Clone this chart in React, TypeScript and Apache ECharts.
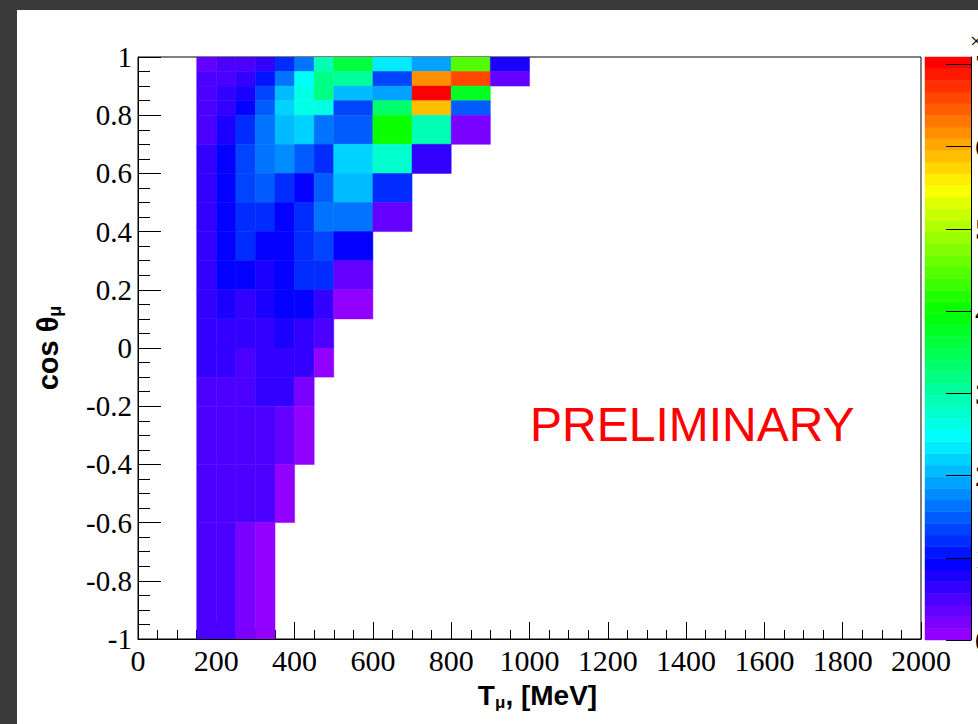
import React, { useEffect, useRef } from "react";
import * as echarts from "echarts";

// Bin edges
const tEdges = [150, 200, 250, 300, 350, 400, 450, 500, 600, 700, 800, 900, 1000];
const cosEdges = [1, 0.95, 0.9, 0.85, 0.8, 0.7, 0.6, 0.5, 0.4, 0.3, 0.2, 0.1, 0, -0.1, -0.2, -0.4, -0.6, -1];

// Cell contents, rows from cos=1 downwards, columns along T
const row0 = [0.35, 0.45, 0.45, 0.69, 1.25, 1.65, 2.97, 3.6, 2.33, 1.96, 4.49, 0.74];
const row1 = [0.44, 0.44, 0.59, 1.07, 1.6, 2.47, 3.22, 3.02, 1.32, 6.2, 6.6, 0.34];
const row2 = [0.44, 0.6, 0.74, 1.35, 2.0, 2.67, 3.22, 2.03, 1.9, 7.05, 3.78];
const row3 = [0.44, 0.69, 0.94, 1.52, 2.2, 2.65, 2.65, 1.35, 3.37, 5.9, 1.55];
const row4 = [0.44, 0.74, 1.25, 1.65, 2.06, 2.16, 1.65, 1.45, 3.98, 2.97, 0.18];
const row5 = [0.64, 0.94, 1.35, 1.65, 1.75, 1.45, 1.15, 2.2, 2.77, 0.64];
const row6 = [0.64, 0.94, 1.35, 1.5, 1.25, 0.94, 1.45, 2.06, 1.25];
const row7 = [0.64, 0.94, 1.15, 1.15, 0.94, 1.2, 1.65, 1.65, 0.37];
const row8 = [0.64, 0.94, 1.25, 0.94, 0.94, 1.25, 1.33, 0.94];
const row9 = [0.64, 0.94, 0.94, 0.8, 0.94, 1.15, 1.15, 0.37];
const row10 = [0.64, 0.84, 0.69, 0.8, 0.94, 0.94, 0.69, 0.12];
const row11 = [0.64, 0.64, 0.64, 0.69, 0.8, 0.69, 0.44];
const row12 = [0.64, 0.64, 0.54, 0.69, 0.64, 0.59, 0.12];
const row13 = [0.54, 0.54, 0.54, 0.69, 0.6, 0.23];
const row14 = [0.54, 0.54, 0.54, 0.54, 0.41, 0.1];
const row15 = [0.44, 0.44, 0.44, 0.44, 0.1];
const row16 = [0.44, 0.44, 0.23, 0.1];
const cellRows = [row0, row1, row2, row3, row4, row5, row6, row7, row8, row9, row10, row11, row12, row13, row14, row15, row16];

const zMax = 7.09;
const zInterval = 1;
const zTicks = [0, 1, 2, 3, 4, 5, 6, 7];
const nColors = 50;

function hslHex(h: number): string {
  const f = (n: number) => {
    const k = (n + h / 30) % 12;
    const c = 0.5 - 0.5 * Math.max(-1, Math.min(k - 3, 9 - k, 1));
    return Math.round(255 * c).toString(16).padStart(2, "0");
  };
  return "#" + f(0) + f(8) + f(4);
}

const palette: string[] = [];
for (let i = 0; i < nColors; i++) {
  palette.push(i === nColors - 1 ? "#ff0000" : hslHex(280 - (i + 1) * (280 / nColors)));
}

const SERIF = "Liberation Serif";
const SANS = "Liberation Sans";

const renderCell = (params: any, api: any) => {
  const p0 = api.coord([api.value(0), api.value(3)]);
  const p1 = api.coord([api.value(1), api.value(2)]);
  const color = api.visual("color");
  return {
    type: "rect",
    shape: { x: p0[0], y: p0[1], width: p1[0] - p0[0], height: p1[1] - p0[1] },
    style: { fill: color, stroke: color, lineWidth: 0.5 },
  };
};

export default function App() {
  const ref = useRef<HTMLDivElement>(null);
  useEffect(() => {
    if (!ref.current) return;
    const chart = echarts.init(ref.current, undefined, { renderer: "svg" });

    const data: number[][] = [];
    cellRows.forEach((row, r) => {
      row.forEach((v, c) => {
        if (v == null) return;
        data.push([tEdges[c], tEdges[c + 1], cosEdges[r + 1], cosEdges[r], v]);
      });
    });

    // colour-scale bands: [x0, x1, zLow, zHigh, zMid]
    const bands: number[][] = palette.map((_, i) => {
      const lo = (i * zMax) / nColors;
      const hi = ((i + 1) * zMax) / nColors;
      return [0, 1, lo, hi, (lo + hi) / 2];
    });

    const pieces = palette.map((color, i) => ({
      min: (i * zMax) / nColors,
      max: ((i + 1) * zMax) / nColors,
      color,
    }));

    // colour-scale tick marks, drawn over the bands (from 0.46 of the bar width to its right edge)
    const tickLines = zTicks.map((t) => [{ coord: [0.46, t] }, { coord: [1, t] }]);

    chart.setOption({
      animation: false,
      backgroundColor: "#ffffff",
      grid: [
        { left: 138, top: 57, width: 783, height: 582, show: true, borderColor: "#000", borderWidth: 1, backgroundColor: "transparent", outerBoundsMode: "none", containLabel: false },
        { left: 925, top: 57, width: 46, height: 583, show: false, outerBoundsMode: "none", containLabel: false },
      ],
      xAxis: [
        {
          gridIndex: 0,
          type: "value",
          min: 0,
          max: 2000,
          interval: 200,
          axisLine: { show: true, onZero: false, lineStyle: { color: "#000", width: 1 } },
          axisTick: { show: true, inside: true, length: 17, lineStyle: { color: "#000" } },
          minorTick: { show: true, splitNumber: 4, length: 9, lineStyle: { color: "#000" } },
          splitLine: { show: false },
          axisLabel: { color: "#000", fontFamily: SERIF, fontSize: 30, margin: 6, formatter: (v: number) => String(v) },
          name: "{a|T}{s|μ}{a|, [MeV]}",
          nameLocation: "middle",
          nameGap: 40,
          nameTextStyle: {
            padding: [0, 0, 0, 16],
            rich: {
              a: { fontFamily: SANS, fontWeight: "bold", fontSize: 28, color: "#000", lineHeight: 32 },
              s: { fontFamily: SANS, fontWeight: "bold", fontSize: 17, color: "#000", lineHeight: 32, verticalAlign: "bottom", padding: [10, 0, 0, 0] },
            },
          },
        },
        { gridIndex: 1, type: "value", min: 0, max: 1, show: false },
      ],
      yAxis: [
        {
          gridIndex: 0,
          type: "value",
          min: -1,
          max: 1,
          interval: 0.2,
          axisLine: { show: true, onZero: false, lineStyle: { color: "#000", width: 1 } },
          axisTick: { show: true, inside: true, length: 23, lineStyle: { color: "#000" } },
          minorTick: { show: true, splitNumber: 4, length: 12, lineStyle: { color: "#000" } },
          splitLine: { show: false },
          axisLabel: { color: "#000", fontFamily: SERIF, fontSize: 29, margin: 6 },
          name: "{a|cos θ}{s|μ}",
          nameLocation: "middle",
          nameRotate: 90,
          nameGap: 74,
          nameTextStyle: {
            padding: [0, 0, 0, 0],
            rich: {
              a: { fontFamily: SANS, fontWeight: "bold", fontSize: 29, color: "#000", lineHeight: 32 },
              s: { fontFamily: SANS, fontWeight: "bold", fontSize: 18, color: "#000", lineHeight: 32, verticalAlign: "bottom", padding: [10, 0, 0, 0] },
            },
          },
        },
        {
          gridIndex: 1,
          type: "value",
          position: "right",
          min: 0,
          max: zMax,
          interval: zInterval,
          z: 10,
          axisLine: { show: true, onZero: false, lineStyle: { color: "#000", width: 1 } },
          axisTick: { show: false },
          splitLine: { show: false },
          axisLabel: { color: "#000", fontFamily: SERIF, fontSize: 30, margin: 4, showMaxLabel: false },
        },
      ],
      visualMap: {
        type: "piecewise",
        show: false,
        seriesIndex: [0, 1],
        dimension: 4,
        pieces,
      },
      graphic: [
        { type: "rect", shape: { x: 0, y: 0, width: 17, height: 724 }, style: { fill: "#3a3a3a" } },
        { type: "rect", shape: { x: 0, y: 0, width: 978, height: 10 }, style: { fill: "#3a3a3a" } },
        {
          type: "text",
          x: 530,
          y: 424,
          style: { text: "PRELIMINARY", fill: "#ff0000", font: `48px "${SANS}"`, textVerticalAlign: "middle" },
        },
        {
          type: "text",
          x: 970,
          y: 40,
          style: { text: "×10", fill: "#000", font: `22px "${SERIF}"`, textVerticalAlign: "middle" },
        },
      ],
      series: [
        {
          type: "custom",
          name: "cells",
          xAxisIndex: 0,
          yAxisIndex: 0,
          z: 2,
          clip: true,
          encode: { x: [0, 1], y: [2, 3] },
          renderItem: renderCell,
          data,
        },
        {
          type: "custom",
          name: "palette",
          xAxisIndex: 1,
          yAxisIndex: 1,
          z: 1,
          clip: false,
          encode: { x: [0, 1], y: [2, 3] },
          renderItem: renderCell,
          data: bands,
          markLine: {
            silent: true,
            symbol: ["none", "none"],
            label: { show: false },
            lineStyle: { color: "#000", width: 1, type: "solid" },
            emphasis: { disabled: true },
            data: tickLines,
          },
        },
      ],
    });
    return () => chart.dispose();
  }, []);
  return <div ref={ref} style={{ position: "fixed", left: 0, top: 0, width: 978, height: 724 }} />;
}
